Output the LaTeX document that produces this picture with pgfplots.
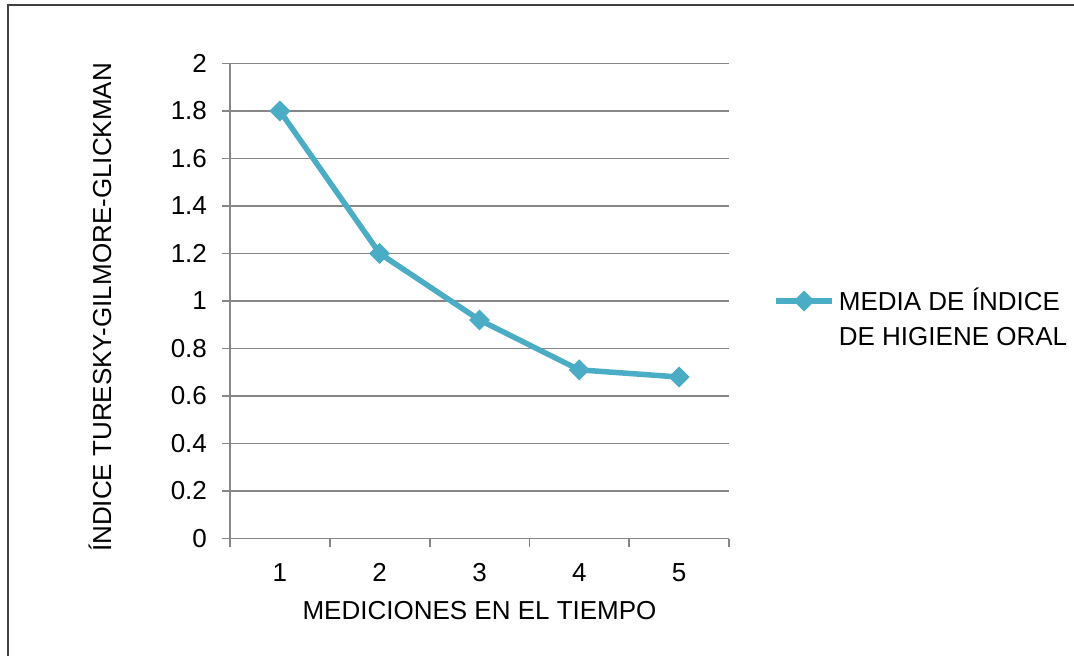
\documentclass[border=0pt]{standalone}
\usepackage{pgfplots}
\pgfplotsset{compat=1.18}
\usepackage{fontspec}
\setmainfont{Liberation Sans}
\definecolor{serie}{HTML}{4BACC6}
\definecolor{rejilla}{HTML}{868686}
\begin{document}
\begin{tikzpicture}
% 1 px of the reference = 0.5pt
\useasboundingbox (0,0) rectangle (537pt,327.5pt);
\draw[black!75, line width=1pt] (4pt,-20pt) rectangle (560pt,325pt);
\begin{axis}[
    at={(115pt,58.25pt)}, anchor=origin,
    scale only axis,
    width=249.5pt, height=237.5pt,
    xmin=0.5, xmax=5.5,
    ymin=0, ymax=2,
    xtick={1,2,3,4,5},
    minor xtick={0.5,1.5,2.5,3.5,4.5,5.5},
    ytick={0,0.2,0.4,0.6,0.8,1,1.2,1.4,1.6,1.8,2},
    axis lines=left,
    axis line style={-, draw=rejilla, line width=0.9pt},
    tick align=outside,
    major tick length=4pt, minor tick length=4pt,
    every tick/.style={draw=rejilla, line width=0.9pt},
    major x tick style={draw=none},
    ymajorgrids=true,
    grid style={draw=rejilla, line width=0.9pt},
    /pgf/number format/assume math mode=true,
    ticklabel style={font=\fontsize{13}{15}\selectfont},
    yticklabel style={/pgf/number format/fixed, xshift=-4pt},
    xticklabel style={yshift=-5pt},
    xlabel={MEDICIONES EN EL TIEMPO},
    ylabel={ÍNDICE TURESKY-GILMORE-GLICKMAN},
    every axis x label/.style={at={(axis description cs:0.5,0)}, anchor=center,
        yshift=-36.25pt, font=\fontsize{13}{15}\selectfont},
    % rotated label: its yshift moves it left, its xshift moves it up
    every axis y label/.style={at={(axis description cs:0,0.5)}, anchor=center,
        rotate=90, yshift=65pt, xshift=-3.25pt, font=\fontsize{13}{15}\selectfont},
    legend style={draw=none, fill=none, at={(rel axis cs:1,0.5)}, anchor=west,
        xshift=22pt, yshift=-8.75pt, font=\fontsize{13}{17.5}\selectfont,
        cells={align=left}, inner sep=0pt},
    legend cell align=left,
    legend image code/.code={
        \path[draw=none, fill=none] (0pt,-8.75pt) (0pt,8.75pt);
        \draw[mark repeat=2,mark phase=2] plot coordinates {(0pt,8.75pt) (14pt,8.75pt) (28pt,8.75pt)};},
    clip=false,
]
\addplot[color=serie, line width=2.75pt, mark=square*, mark size=3.5pt,
    mark options={fill=serie, draw=serie, line width=0.4pt, rotate=45}]
    coordinates {
    (1,1.80)(2,1.20)(3,0.92)(4,0.71)(5,0.68)
    };
\legend{MEDIA DE ÍNDICE\\DE HIGIENE ORAL}
\end{axis}
\end{tikzpicture}
\end{document}
